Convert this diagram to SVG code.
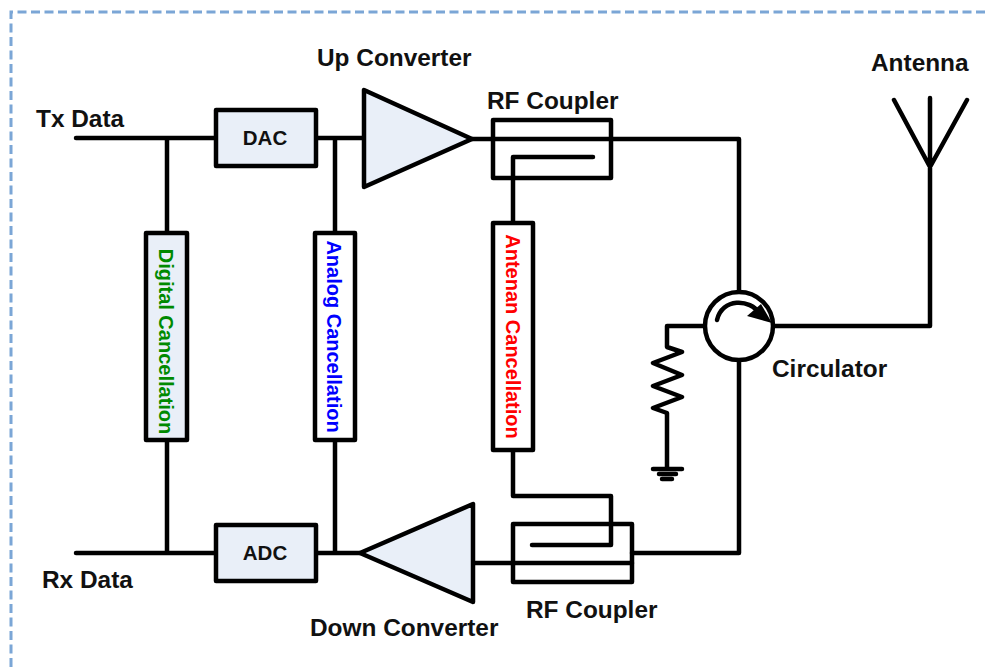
<svg xmlns="http://www.w3.org/2000/svg" width="987" height="667" viewBox="0 0 987 667">
<style>
.w{fill:none;stroke:#000;stroke-width:4.500;stroke-linejoin:round;stroke-linecap:round}
.b{fill:#e9eff8;stroke:#000;stroke-width:4.500;stroke-linejoin:round}
.wb{fill:#fff;stroke:#000;stroke-width:4.500;stroke-linejoin:round}
.n{fill:none;stroke:#000;stroke-width:4.500;stroke-linejoin:round}
text{font-family:"Liberation Sans",Arial,sans-serif;font-weight:700;font-size:24.400px;fill:#111}
.m{font-size:20.500px;text-anchor:middle}
.v{font-size:20px;text-anchor:middle}
</style>
<path id="border" d="M11,667 V12 H987" fill="none" stroke="#7ba6d6" stroke-width="3" stroke-dasharray="9 4.5"/>
<g id="connectors">
<path class="w" d="M76,138 H216 M316,138 H364 M167,138 V233 M167,440 V553 M76,553 H216 M335,138 V233 M335,440 V553 M316,553 H360 M472,139 H739 V305 M739,360 V553 H632 M473,563 H632 M513,178 V157 H593 M513,178 V223 M513,450 V496 H611 V545 H532 M773,326 H930 V98 M894,100 L930,167 L967,100 M705,326 H667 V347 L682,352 L653,363 L682,375 L653,386 L682,397 L653,408 L667,413 V469 M653,469 H682 M659,474 H676 M662,479 H672"/>
</g>
<g id="dac"><rect class="b" x="216" y="110" width="100" height="56"/><text class="m" x="265" y="145">DAC</text></g>
<g id="adc"><rect class="b" x="216" y="525" width="100" height="56"/><text class="m" x="265" y="560">ADC</text></g>
<g id="digital-cancellation"><rect class="b" x="146" y="233" width="41" height="207"/><text class="v" style="fill:#008a00" transform="translate(159,341.500) rotate(90)">Digital Cancellation</text></g>
<g id="analog-cancellation"><rect class="wb" x="315" y="233" width="40" height="207"/><text class="v" style="fill:#0000ff" transform="translate(327,336.500) rotate(90)">Analog Cancellation</text></g>
<g id="antenna-cancellation"><rect class="wb" x="493" y="223" width="40" height="227"/><text class="v" style="fill:#ff0000" transform="translate(506,336.500) rotate(90)">Antenan Cancellation</text></g>
<g id="up-converter"><polygon class="b" points="364,90 364,187 472,139"/><text x="317" y="66">Up Converter</text></g>
<g id="down-converter"><polygon class="b" points="360,553 473,504 473,602"/><text x="310" y="636">Down Converter</text></g>
<g id="rf-coupler-top"><rect class="n" x="493" y="120" width="118" height="58"/><text x="487" y="109">RF Coupler</text></g>
<g id="rf-coupler-bottom"><rect class="n" x="513" y="524" width="119" height="58"/><text x="526" y="618">RF Coupler</text></g>
<g id="circulator"><circle cx="739" cy="326" r="34" fill="#fff" stroke="#000" stroke-width="4.500"/><path class="w" d="M717,320 C722,298 750,298 760,314"/><polygon points="761,304 772,323 747,316"/><text x="772" y="377">Circulator</text></g>
<g id="antenna"><text x="871" y="71">Antenna</text></g>
<g id="labels"><text x="36" y="127">Tx Data</text><text x="42" y="588">Rx Data</text></g>
</svg>
